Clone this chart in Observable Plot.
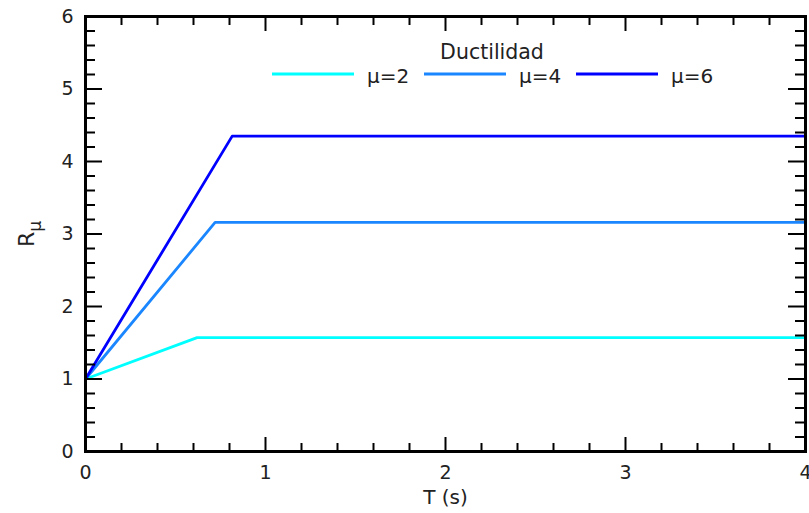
<!DOCTYPE html>
<html>
<head>
<meta charset="utf-8">
<script src="https://cdn.jsdelivr.net/npm/d3@7"></script>
<script src="https://cdn.jsdelivr.net/npm/@observablehq/plot@0.6"></script>
<style>
  html, body { margin: 0; padding: 0; background: white; }
  #chart { width: 809px; height: 513px; }
</style>
</head>
<body>
<div id="chart"></div>
<script>
// ---- data ----
const seriesNames = ["μ=2", "μ=4", "μ=6"];
const seriesColors = ["#00FFFF", "#1A86FF", "#0000FF"];
const T_mu2 = [0, 0.62, 4];
const R_mu2 = [1, 1.57, 1.57];
const T_mu4 = [0, 0.72, 4];
const R_mu4 = [1, 3.16, 3.16];
const T_mu6 = [0, 0.815, 4];
const R_mu6 = [1, 4.35, 4.35];
const xMajor = [0, 1, 2, 3, 4];
const yMajor = [0, 1, 2, 3, 4, 5, 6];
const xMinor = d3.range(0, 4.0001, 0.2).filter(v => Math.abs(v - Math.round(v)) > 1e-6);
const yMinor = d3.range(0, 6.0001, 0.2).filter(v => Math.abs(v - Math.round(v)) > 1e-6);
const legendTitle = "Ductilidad";
const xLabel = "T (s)";

const seriesT = [T_mu2, T_mu4, T_mu6];
const seriesR = [R_mu2, R_mu4, R_mu6];
const data = seriesNames.flatMap((name, i) =>
  seriesT[i].map((t, j) => ({mu: name, T: t, R: seriesR[i][j]})));

const W = 809, H = 513;
const mL = 85, mR = 4, mT = 16, mB = 62;
const pw = W - mL - mR, ph = H - mT - mB;

const chart = Plot.plot({
  width: W, height: H,
  marginLeft: mL, marginRight: mR, marginTop: mT, marginBottom: mB,
  style: {fontFamily: "DejaVu Sans", fontSize: "19px", color: "#222", background: "white", overflow: "visible"},
  x: {domain: [0, 4]},
  y: {domain: [0, 6]},
  color: {domain: seriesNames, range: seriesColors},
  marks: [
    Plot.line(data, {x: "T", y: "R", z: "mu", stroke: "mu", strokeWidth: 2.8}),
    // inward ticks bottom
    Plot.ruleX(xMinor, {insetTop: ph - 8, stroke: "black", strokeWidth: 2}),
    Plot.ruleX(xMajor, {insetTop: ph - 14, stroke: "black", strokeWidth: 2}),
    // top
    Plot.ruleX(xMinor, {insetBottom: ph - 9, stroke: "black", strokeWidth: 2}),
    Plot.ruleX(xMajor, {insetBottom: ph - 15, stroke: "black", strokeWidth: 2}),
    // left
    Plot.ruleY(yMinor, {insetRight: pw - 10, stroke: "black", strokeWidth: 2}),
    Plot.ruleY(yMajor, {insetRight: pw - 17, stroke: "black", strokeWidth: 2}),
    // right
    Plot.ruleY(yMinor, {insetLeft: pw - 10, stroke: "black", strokeWidth: 2}),
    Plot.ruleY(yMajor, {insetLeft: pw - 17, stroke: "black", strokeWidth: 2}),
    Plot.frame({stroke: "black", strokeWidth: 3}),
    Plot.axisX({ticks: xMajor, tickSize: 0, tickPadding: 14, label: null, tickFormat: d => String(d), fontSize: 19}),
    Plot.axisY({ticks: yMajor, tickSize: 0, tickPadding: 12, label: null, tickFormat: d => String(d), fontSize: 19}),
    Plot.text([xLabel], {frameAnchor: "bottom", dy: 46, text: d => d, lineAnchor: "middle", fontSize: 20})
  ]
});
document.getElementById("chart").appendChild(chart);

// ---- Y axis label R with subscript μ ----
const svg = d3.select(chart);
const yl = svg.append("text")
  .attr("transform", "translate(34,234) rotate(-90)")
  .attr("text-anchor", "middle")
  .attr("font-family", "DejaVu Sans")
  .attr("font-size", 22)
  .attr("fill", "#222");
yl.append("tspan").text("R");
yl.append("tspan").attr("dy", 7).attr("font-size", 17).text("μ");

// ---- legend ----
const lg = svg.append("g").attr("font-family", "DejaVu Sans").attr("font-size", 20).attr("fill", "#222");
lg.append("text").attr("x", 492).attr("y", 52).attr("text-anchor", "middle").attr("dy", "0.35em")
  .attr("font-size", 20.5).text(legendTitle);
seriesNames.forEach((name, i) => {
  const x0 = 272 + i * 152;
  lg.append("line").attr("x1", x0).attr("x2", x0 + 82).attr("y1", 74).attr("y2", 74)
    .attr("stroke", seriesColors[i]).attr("stroke-width", 2.8);
  lg.append("text").attr("x", x0 + 95).attr("y", 76).attr("dy", "0.35em")
    .attr("text-anchor", "start").text(name);
});
</script>
</body>
</html>
